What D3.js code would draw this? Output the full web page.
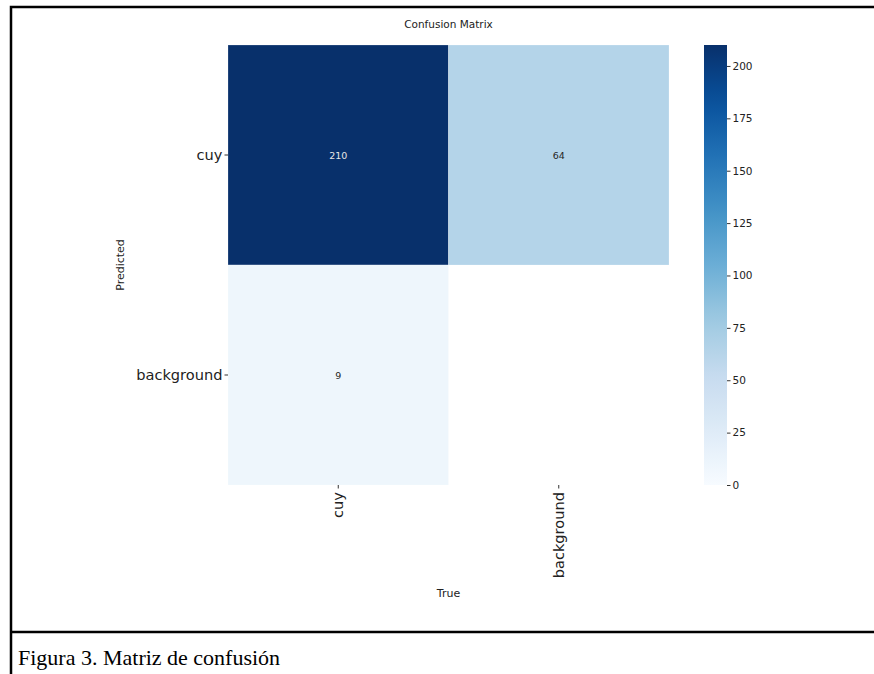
<!DOCTYPE html>
<html>
<head>
<meta charset="utf-8">
<script src="https://cdn.jsdelivr.net/npm/d3@7"></script>
<style>
  html, body { margin: 0; padding: 0; background: #fff; }
  svg { display: block; }
</style>
</head>
<body>
<svg id="chart" width="874" height="674"></svg>
<script>
// Class labels (rows = predicted, columns = true)
const predictedLabels = ["cuy", "background"];
const trueLabels = ["cuy", "background"];
// Counts per row; null cells are left blank
const rowCuy = [210, 64];
const rowBackground = [9, null];
const colorbarTicks = [0, 25, 50, 75, 100, 125, 150, 175, 200];
const colorMax = 210;

const matrix = [rowCuy, rowBackground];

const svg = d3.select("#chart");
const sans = "'DejaVu Sans', sans-serif";

// Figure frame and caption row
svg.append("rect").attr("x", 11).attr("y", 7).attr("width", 880).attr("height", 690)
  .attr("fill", "none").attr("stroke", "#000").attr("stroke-width", 2.5);
svg.append("line").attr("x1", 11).attr("x2", 874).attr("y1", 632).attr("y2", 632)
  .attr("stroke", "#000").attr("stroke-width", 2.5);
svg.append("text").attr("x", 18).attr("y", 665)
  .attr("font-family", "'Liberation Serif', 'Times New Roman', serif")
  .attr("font-size", 22).attr("fill", "#000")
  .text("Figura 3. Matriz de confusión");

// Heatmap area
const hmLeft = 228, hmRight = 669, hmTop = 45, hmBottom = 485;
const x = d3.scaleBand().domain(trueLabels).range([hmLeft, hmRight]);
const y = d3.scaleBand().domain(predictedLabels).range([hmTop, hmBottom]);

// Matplotlib-style Blues colormap
const blues = ["#f7fbff","#deebf7","#c6dbef","#9ecae1","#6baed6","#4292c6","#2171b5","#08519c","#08306b"];
const color = d3.scaleLinear()
  .domain(blues.map((_, i) => i / (blues.length - 1) * colorMax))
  .range(blues).clamp(true);

const cells = [];
matrix.forEach((row, i) => row.forEach((v, j) => cells.push({ r: predictedLabels[i], c: trueLabels[j], v })));

svg.append("g").selectAll("rect").data(cells.filter(d => d.v !== null)).join("rect")
  .attr("x", d => x(d.c)).attr("y", d => y(d.r))
  .attr("width", x.bandwidth()).attr("height", y.bandwidth())
  .attr("fill", d => color(d.v))
  .attr("stroke", "#ffffff").attr("stroke-opacity", 0.35).attr("stroke-width", 0.6);

svg.append("g").selectAll("text").data(cells.filter(d => d.v !== null)).join("text")
  .attr("x", d => x(d.c) + x.bandwidth() / 2)
  .attr("y", d => y(d.r) + y.bandwidth() / 2)
  .attr("text-anchor", "middle").attr("dominant-baseline", "central")
  .attr("font-family", sans).attr("font-size", 9.5)
  .attr("fill", d => d.v > colorMax / 2 ? "#e6e6e6" : "#262626")
  .text(d => d.v);

// Title
svg.append("text").attr("x", (hmLeft + hmRight) / 2).attr("y", 28)
  .attr("text-anchor", "middle").attr("font-family", sans).attr("font-size", 10.5)
  .attr("fill", "#222").text("Confusion Matrix");

// Y axis (predicted)
const yAxis = svg.append("g").attr("transform", `translate(${hmLeft},0)`)
  .call(d3.axisLeft(y).tickSize(3.5).tickPadding(2));
yAxis.select(".domain").remove();
yAxis.selectAll("line").attr("stroke", "#333");
yAxis.selectAll("text").attr("font-family", sans).attr("font-size", 14.6).attr("fill", "#222");

// X axis (true), rotated labels
const xAxis = svg.append("g").attr("transform", `translate(0,${hmBottom})`)
  .call(d3.axisBottom(x).tickSize(3.5).tickPadding(2));
xAxis.select(".domain").remove();
xAxis.selectAll("line").attr("stroke", "#333");
xAxis.selectAll("text")
  .attr("font-family", sans).attr("font-size", 14.6).attr("fill", "#222")
  .attr("transform", "rotate(-90)")
  .attr("x", -7).attr("y", 0).attr("dy", "0.35em")
  .attr("text-anchor", "end");

// Axis titles
svg.append("text").attr("transform", `translate(124,${(hmTop + hmBottom) / 2}) rotate(-90)`)
  .attr("text-anchor", "middle").attr("font-family", sans).attr("font-size", 11)
  .attr("fill", "#222").text("Predicted");
svg.append("text").attr("x", (hmLeft + hmRight) / 2).attr("y", 597)
  .attr("text-anchor", "middle").attr("font-family", sans).attr("font-size", 11)
  .attr("fill", "#222").text("True");

// Colorbar
const cbX = 704, cbW = 23;
const cbScale = d3.scaleLinear().domain([0, colorMax]).range([hmBottom, hmTop]);
const defs = svg.append("defs");
const grad = defs.append("linearGradient").attr("id", "cbgrad")
  .attr("x1", 0).attr("y1", 1).attr("x2", 0).attr("y2", 0);
d3.range(0, 1.0001, 0.05).forEach(t => {
  grad.append("stop").attr("offset", t).attr("stop-color", color(t * colorMax));
});
svg.append("rect").attr("x", cbX).attr("y", hmTop).attr("width", cbW).attr("height", hmBottom - hmTop)
  .attr("fill", "url(#cbgrad)");
const cbAxis = svg.append("g").attr("transform", `translate(${cbX + cbW},0)`)
  .call(d3.axisRight(cbScale).tickValues(colorbarTicks).tickSize(3.5).tickPadding(2));
cbAxis.select(".domain").remove();
cbAxis.selectAll("line").attr("stroke", "#333");
cbAxis.selectAll("text").attr("font-family", sans).attr("font-size", 10.5).attr("fill", "#222");
</script>
</body>
</html>
